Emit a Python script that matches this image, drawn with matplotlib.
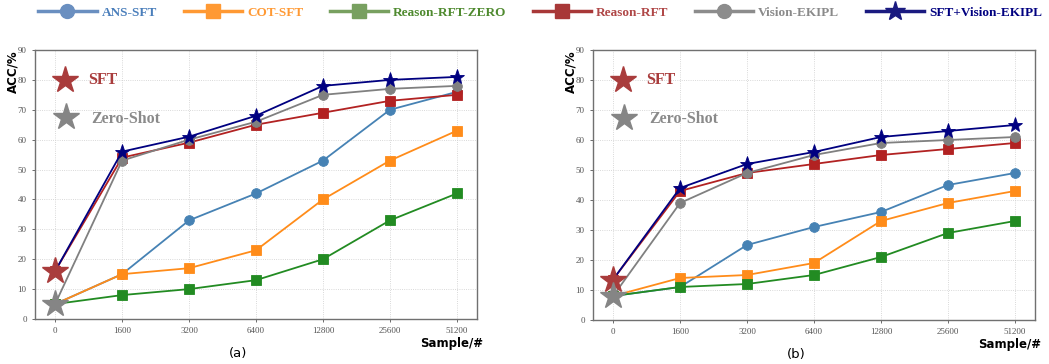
import numpy as np
import matplotlib
matplotlib.use("Agg")
import matplotlib.pyplot as plt
from matplotlib.lines import Line2D

samples = ["0", "1600", "3200", "6400", "12800", "25600", "51200"]

series_names = ["ANS-SFT", "COT-SFT", "Reason-RFT-ZERO", "Reason-RFT",
                "Vision-EKIPL", "SFT+Vision-EKIPL"]

# panel (a)
a_ans    = [5, 15, 33, 42, 53, 70, 76]
a_cot    = [5, 15, 17, 23, 40, 53, 63]
a_zero   = [5, 8, 10, 13, 20, 33, 42]
a_rft    = [16, 54, 59, 65, 69, 73, 75]
a_vision = [5, 53, 60, 66, 75, 77, 78]
a_sftvis = [16, 56, 61, 68, 78, 80, 81]
a_sft_base, a_zs_base = 16, 5

# panel (b)
b_ans    = [8, 11, 25, 31, 36, 45, 49]
b_cot    = [8, 14, 15, 19, 33, 39, 43]
b_zero   = [8, 11, 12, 15, 21, 29, 33]
b_rft    = [13.5, 43, 49, 52, 55, 57, 59]
b_vision = [8, 39, 49, 55, 59, 60, 61]
b_sftvis = [13.5, 44, 52, 56, 61, 63, 65]
b_sft_base, b_zs_base = 13.5, 8

colors  = ["#4682b4", "#ff8c1a", "#228b22", "#b22222", "#808080", "#000080"]
leg_col = ["#6a8fc0", "#ff9933", "#78a060", "#a83838", "#8c8c8c", "#1a1a80"]
txt_col = ["#4a7ebb", "#ff9933", "#4f8a2f", "#b04848", "#8a8a8a", "#000080"]
markers = ["o", "s", "s", "s", "o", "*"]
msizes  = [7, 7, 7, 7, 7, 11]

fig = plt.figure(figsize=(10.49, 3.64), dpi=100)
W, H = 1049, 364
ax_a = fig.add_axes([35 / W, 1 - 319 / H, 442 / W, 269 / H])
ax_b = fig.add_axes([593 / W, 1 - 320 / H, 442 / W, 270 / H])


def draw(ax, data, sft_base, zs_base, label):
    x = np.arange(len(samples))
    for i, ys in enumerate(data):
        ax.plot(x, ys, color=colors[i], marker=markers[i], ms=msizes[i],
                lw=1.3, markeredgecolor=colors[i], markeredgewidth=0.6,
                zorder=3 + (i == 5))
    ax.plot([0], [sft_base], marker="*", ms=20, color="#a93c3c", zorder=6, ls="none")
    ax.plot([0], [zs_base], marker="*", ms=20, color="#858585", zorder=6, ls="none")

    ax.set_xlim(-0.3, 6.3)
    ax.set_ylim(0, 90)
    ax.set_xticks(x)
    ax.set_xticklabels(samples)
    ax.set_yticks(range(0, 91, 10))
    for t in ax.get_xticklabels() + ax.get_yticklabels():
        t.set_fontfamily("Liberation Serif")
        t.set_fontsize(6.5)
        t.set_color("#333333")
    ax.tick_params(length=2, width=0.6, colors="#555555", pad=4)
    ax.grid(True, ls=":", lw=0.6, color="#cccccc")
    for s in ax.spines.values():
        s.set_color("#707070")
        s.set_linewidth(1.0)
    ax.text(-0.05, 1.0, "ACC/%", transform=ax.transAxes, rotation=90,
            ha="center", va="top", fontsize=8.5, fontweight="bold")

    # inner star annotations
    ax.plot([0.068], [0.888], marker="*", ms=20, color="#a93c3c",
            transform=ax.transAxes, ls="none", clip_on=False)
    ax.text(0.12, 0.888, "SFT", transform=ax.transAxes, color="#a93c3c",
            fontsize=11.5, fontweight="bold", family="Liberation Serif", va="center")
    ax.plot([0.07], [0.75], marker="*", ms=20, color="#858585",
            transform=ax.transAxes, ls="none", clip_on=False)
    ax.text(0.127, 0.745, "Zero-Shot", transform=ax.transAxes, color="#8a8a8a",
            fontsize=11.5, fontweight="bold", family="Liberation Serif", va="center")

    ax.text(1.013, -0.09, "Sample/#", transform=ax.transAxes, ha="right",
            va="center", fontsize=8.5, fontweight="bold")
    ax.text(0.46, -0.128, label, transform=ax.transAxes, ha="center",
            va="center", fontsize=9.5)


draw(ax_a, [a_ans, a_cot, a_zero, a_rft, a_vision, a_sftvis],
     a_sft_base, a_zs_base, "(a)")
draw(ax_b, [b_ans, b_cot, b_zero, b_rft, b_vision, b_sftvis],
     b_sft_base, b_zs_base, "(b)")

handles = [Line2D([], [], color=leg_col[i], marker=markers[i],
                  ms=10 if i != 5 else 15, lw=2.5)
           for i in range(6)]
leg = fig.legend(handles, series_names, loc="center",
                 bbox_to_anchor=(0.515, 1 - 13 / H), ncol=6, frameon=False,
                 handlelength=4.4, columnspacing=2.0, handletextpad=0.4,
                 borderpad=0.0,
                 prop={"family": "Liberation Serif", "weight": "bold", "size": 9.5})
for t, c in zip(leg.get_texts(), txt_col):
    t.set_color(c)

fig.savefig("out.png", dpi=100)
